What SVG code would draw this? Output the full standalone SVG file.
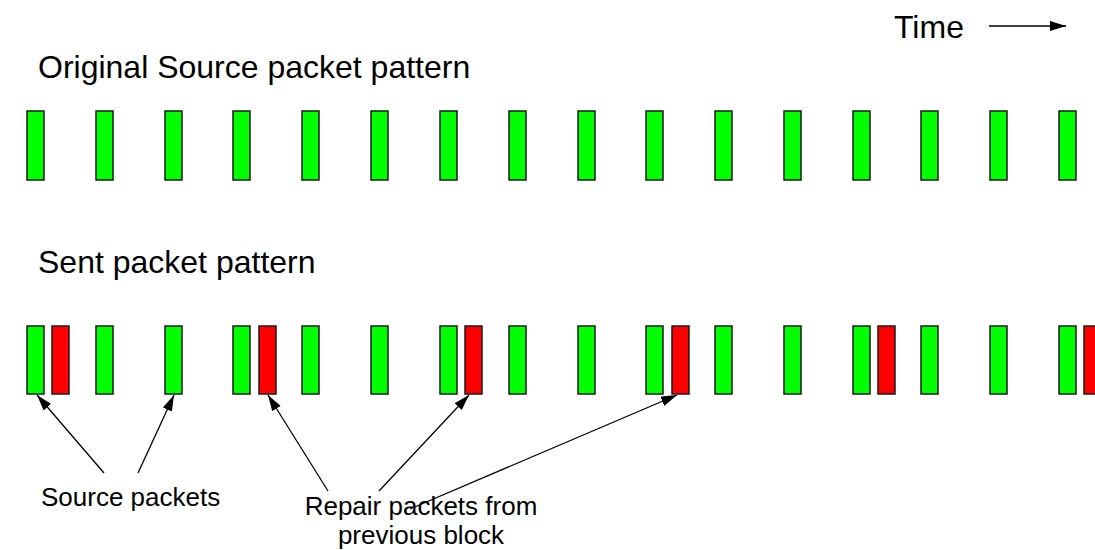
<svg xmlns="http://www.w3.org/2000/svg" width="1095" height="550" viewBox="0 0 1095 550">
<style>
.t{font-family:"Liberation Sans",Arial,sans-serif;fill:#000}
.g{fill:#00ff00;stroke:#1a1a1a;stroke-width:1.5}
.r{fill:#ff0000;stroke:#1a1a1a;stroke-width:1.5}
.c{stroke:#000;stroke-width:1.3;fill:none;marker-end:url(#ah)}
</style>
<defs>
<marker id="ah" markerUnits="userSpaceOnUse" markerWidth="18" markerHeight="12" refX="16" refY="5" orient="auto">
<path d="M0,0 L16,5 L0,10 z" fill="#000"/>
</marker>
</defs>
<text class="t" x="894" y="38" font-size="32">Time</text>
<text class="t" x="38" y="78" font-size="32">Original Source packet pattern</text>
<text class="t" x="38" y="273" font-size="32">Sent packet pattern</text>
<g id="original-row">
<rect class="g" x="27" y="111" width="17" height="69"/>
<rect class="g" x="96" y="111" width="17" height="69"/>
<rect class="g" x="165" y="111" width="17" height="69"/>
<rect class="g" x="233" y="111" width="17" height="69"/>
<rect class="g" x="302" y="111" width="17" height="69"/>
<rect class="g" x="371" y="111" width="17" height="69"/>
<rect class="g" x="440" y="111" width="17" height="69"/>
<rect class="g" x="509" y="111" width="17" height="69"/>
<rect class="g" x="578" y="111" width="17" height="69"/>
<rect class="g" x="646" y="111" width="17" height="69"/>
<rect class="g" x="715" y="111" width="17" height="69"/>
<rect class="g" x="784" y="111" width="17" height="69"/>
<rect class="g" x="853" y="111" width="17" height="69"/>
<rect class="g" x="921" y="111" width="17" height="69"/>
<rect class="g" x="990" y="111" width="17" height="69"/>
<rect class="g" x="1059" y="111" width="17" height="69"/>
</g>
<g id="sent-row">
<rect class="g" x="27" y="326" width="17" height="68"/>
<rect class="r" x="52" y="326" width="17" height="68"/>
<rect class="g" x="96" y="326" width="17" height="68"/>
<rect class="g" x="165" y="326" width="17" height="68"/>
<rect class="g" x="233" y="326" width="17" height="68"/>
<rect class="r" x="259" y="326" width="17" height="68"/>
<rect class="g" x="302" y="326" width="17" height="68"/>
<rect class="g" x="371" y="326" width="17" height="68"/>
<rect class="g" x="440" y="326" width="17" height="68"/>
<rect class="r" x="465" y="326" width="17" height="68"/>
<rect class="g" x="509" y="326" width="17" height="68"/>
<rect class="g" x="578" y="326" width="17" height="68"/>
<rect class="g" x="646" y="326" width="17" height="68"/>
<rect class="r" x="672" y="326" width="17" height="68"/>
<rect class="g" x="715" y="326" width="17" height="68"/>
<rect class="g" x="784" y="326" width="17" height="68"/>
<rect class="g" x="853" y="326" width="17" height="68"/>
<rect class="r" x="878" y="326" width="17" height="68"/>
<rect class="g" x="921" y="326" width="17" height="68"/>
<rect class="g" x="990" y="326" width="17" height="68"/>
<rect class="g" x="1059" y="326" width="17" height="68"/>
<rect class="r" x="1084" y="326" width="17" height="68"/>
</g>
<g id="labels">
<text class="t" x="41" y="506" font-size="26">Source packets</text>
<text class="t" x="421" y="515" font-size="26" text-anchor="middle">Repair packets from</text>
<text class="t" x="421" y="544" font-size="26" text-anchor="middle">previous block</text>
</g>
<g id="connectors">
<line class="c" x1="989" y1="26" x2="1066" y2="26"/>
<line class="c" x1="104" y1="473" x2="37" y2="395"/>
<line class="c" x1="138" y1="473" x2="174" y2="395"/>
<line class="c" x1="328" y1="491" x2="268" y2="395"/>
<line class="c" x1="379" y1="491" x2="469" y2="395"/>
<line class="c" x1="410" y1="509" x2="677" y2="395"/>
</g>
</svg>
